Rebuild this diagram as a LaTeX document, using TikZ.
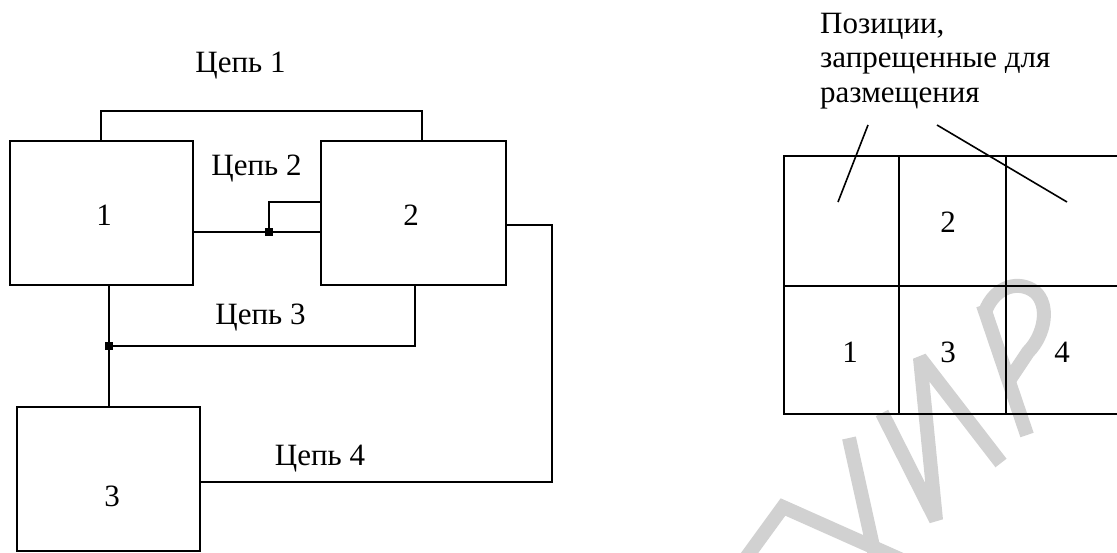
\documentclass[tikz,border=0pt]{standalone}
\usepackage{fontspec}
\setmainfont{Liberation Serif}
\begin{document}
\begin{tikzpicture}[x=1pt,y=-1pt,
  font=\fontsize{31}{34.5}\selectfont,
  wire/.style={line width=2pt},
  ptr/.style={line width=1.6pt},
  block/.style={draw, line width=2pt, rectangle, minimum width=183pt,
    minimum height=144pt, inner sep=0pt},
  junc/.style={fill=black, rectangle, minimum size=8pt, inner sep=0pt},
  lbl/.style={anchor=base, inner sep=0pt},
  wmark/.style={draw=black!18, line width=14pt, line cap=butt,
    line join=miter, miter limit=2}]
\useasboundingbox (0,0) rectangle (1117,552);

% faint background lettering
\draw[wmark] (743,562) -- (783,507) -- (902,560);
\draw[wmark] (849,438) -- (876,560);
\draw[wmark] (882,413) -- (936,520) -- (920,358) -- (1001,463);
\draw[wmark] (983,305) -- (1027,435);
\draw[wmark] (985,312) .. controls (995,285) and (1020,280) .. (1035,292)
  .. controls (1050,305) and (1045,335) .. (1028,352) -- (1008,382);

% blocks
\node[block] (b1) at (101.4,212.9) {};
\node[block, minimum width=185pt] (b2) at (413.5,212.9) {};
\node[block] (b3) at (108.5,478.7) {};
\node[lbl] (t1) at (104,225) {1};
\node[lbl] (t2) at (411,225) {2};
\node[lbl] (t3) at (112,506.7) {3};

% net 1
\coordinate (n1) at (101.6,110.7);
\coordinate (b2top) at ([xshift=8.2pt]b2.north);
\draw[wire] (b1.north) |- (n1) -| (b2top);
\node[lbl] (l1) at (240.5,72) {Цепь 1};

% net 2
\node[junc] (j2) at (269,232) {};
\coordinate (k2) at (269,201.7);
\draw[wire] (b1.east |- j2) -- (b2.west |- j2);
\draw[wire] (j2.center) -- (k2) -- (b2.west |- k2);
\node[lbl] (l2) at (256.5,175) {Цепь 2};

% net 3
\node[junc] (j3) at (108.5,345.7) {};
\coordinate (b2bot) at ([xshift=1.5pt]b2.south);
\draw[wire] (b3.north) -- (b3.north |- b1.south);
\draw[wire] (j3.center) -| (b2bot);
\node[lbl] (l3) at (260.5,324) {Цепь 3};

% net 4
\coordinate (k4) at (552,482.3);
\draw[wire] ([yshift=-12.1pt]b2.east) -| (k4) -- (b3.east |- k4);
\node[lbl] (l4) at (320,465) {Цепь 4};

% placement grid
\draw[wire] (1125,156.3) -- (784,156.3) -- (784,414.3) -- (1125,414.3);
\draw[wire] (784,285.7) -- (1125,285.7);
\draw[wire] (899,156.3) -- (899,414.3);
\draw[wire] (1006,156.3) -- (1006,414.3);
\node[lbl] (g2) at (948,232) {2};
\node[lbl] (g1) at (850,362) {1};
\node[lbl] (g3) at (948,362) {3};
\node[lbl] (g4) at (1062,362) {4};

% forbidden positions callout (anchored at the last line's baseline)
\node[anchor=base west, align=left, inner sep=0pt] (forbid) at (820,102)
  {Позиции,\\запрещенные для\\размещения};
\coordinate (q1) at (868,125);
\coordinate (q2) at (937,125);
\coordinate (p1) at (838,202);
\coordinate (p2) at (1067,202);
\draw[ptr] (q1) -- (p1);
\draw[ptr] (q2) -- (p2);
\end{tikzpicture}
\end{document}
